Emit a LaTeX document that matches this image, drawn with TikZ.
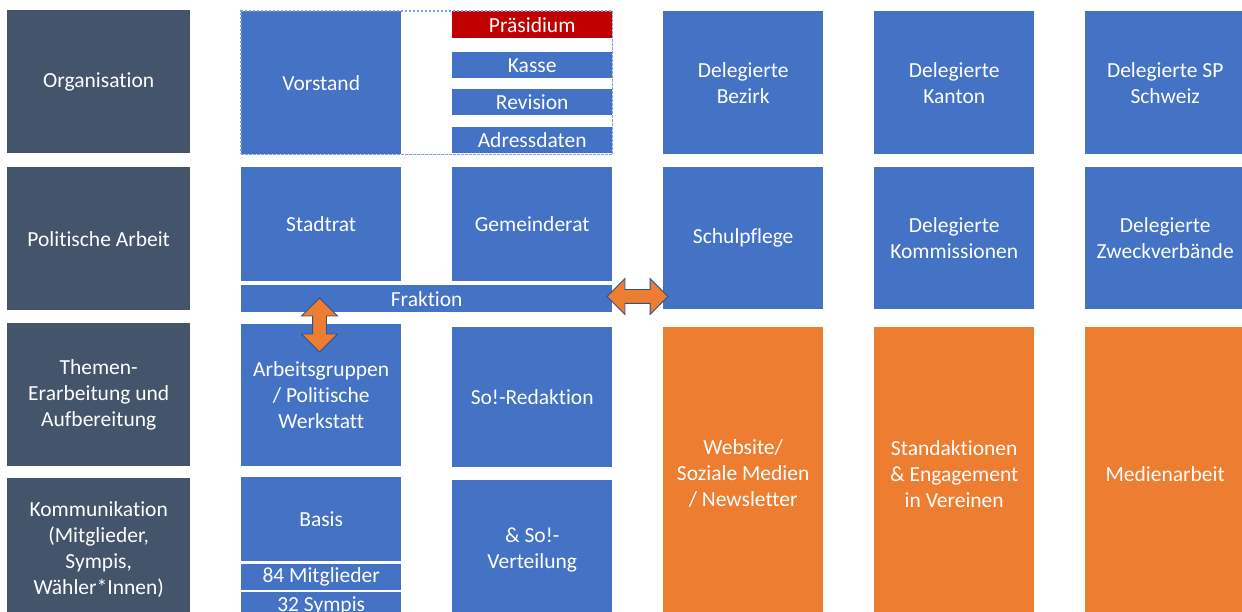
\documentclass[tikz,border=0pt]{standalone}
\usepackage{fontspec}
\setmainfont{Carlito}[Ligatures={NoCommon}]
\usetikzlibrary{shapes.arrows,fit,positioning}
\definecolor{spblue}{HTML}{4472C4}
\definecolor{spslate}{HTML}{44546A}
\definecolor{sporange}{HTML}{ED7D31}
\definecolor{spred}{HTML}{C00000}
\definecolor{spline}{HTML}{2F528F}
\definecolor{spdash}{HTML}{7FA0D8}
\tikzset{
    rowhead/.style={
    rectangle,fill=spslate,text=white,align=center,anchor=north west,inner sep=0pt,
    minimum width=183pt,minimum height=143pt,font=\fontsize{21.5}{26}\selectfont
    },
    orgbox/.style={
    rectangle,fill=spblue,text=white,align=center,anchor=north west,inner sep=0pt,
    minimum width=160pt,font=\fontsize{21.5}{26}\selectfont
    },
    actbox/.style={
    rectangle,fill=sporange,text=white,align=center,anchor=north west,inner sep=0pt,
    minimum width=160pt,minimum height=293pt,font=\fontsize{21.5}{26}\selectfont
    },
    bar/.style={
    orgbox,minimum height=26pt
    },
    dashbox/.style={
    rectangle,draw=spdash,line width=1.2pt,dash pattern=on 2.5pt off 1.5pt,inner sep=0pt
    },
    linkarrow/.style={
    double arrow,fill=sporange,draw=spline,line width=0.8pt,
    inner xsep=0pt,inner ysep=6.5pt,double arrow head extend=11pt
    },
}
\begin{document}
\begin{tikzpicture}[x=1pt,y=-1pt]
   \useasboundingbox (0,0) rectangle (1242,612);
   \clip (0,0) rectangle (1242,612);
   % Ebenen
   \node[rowhead] (org) at (7,10) {Organisation};
   \node[rowhead] (pol) at (7,167) {Politische Arbeit};
   \node[rowhead] (them) at (7,323) {Themen-\\Erarbeitung und\\Aufbereitung};
   \node[rowhead] (komm) at (7,478) {Kommunikation\\(Mitglieder,\\Sympis,\\Wähler*Innen)};
   % Organisation
   \node[orgbox,minimum height=143pt] (vorstand) at (241,11) {Vorstand};
   \node[bar,fill=spred,minimum height=27pt] (praes) at (452,11) {Präsidium};
   \node[bar] (kasse) at (452,52) {Kasse};
   \node[bar] (rev) at (452,89) {Revision};
   \node[bar] (adr) at (452,127) {Adressdaten};
   \node[dashbox,fit=(vorstand)(praes)(adr)] (vgruppe) {};
   \node[orgbox,minimum height=143pt] (delbez) at (663,11) {Delegierte\\Bezirk};
   \node[orgbox,minimum height=143pt] (delkant) at (874,11) {Delegierte\\Kanton};
   \node[orgbox,minimum height=143pt] (delsp) at (1085,11) {Delegierte SP\\Schweiz};
   % Politische Arbeit
   \node[orgbox,minimum height=114pt] (stadtrat) at (241,167) {Stadtrat};
   \node[orgbox,minimum height=114pt] (gemrat) at (452,167) {Gemeinderat};
   \node[bar,minimum width=371pt,minimum height=27pt] (fraktion) at (241,285) {Fraktion};
   \node[orgbox,minimum height=142pt] (schulpfl) at (663,167) {Schulpflege};
   \node[orgbox,minimum height=142pt] (delkomm) at (874,167) {Delegierte\\Kommissionen};
   \node[orgbox,minimum height=142pt] (delzweck) at (1085,167) {Delegierte\\Zweckverbände};
   % Themen
   \node[orgbox,minimum height=142pt] (arbgr) at (241,324) {Arbeitsgruppen\\/ Politische\\Werkstatt};
   \node[orgbox,minimum height=140pt] (redakt) at (452,327) {So!-Redaktion};
   % Kommunikation
   \node[orgbox,minimum height=84pt] (basis) at (241,477) {Basis};
   \node[bar] (mitgl) at (241,564) {84 Mitglieder};
   \node[bar,minimum height=28pt] (sympis) at (241,592) {32 Sympis};
   \node[orgbox,minimum height=140pt] (verteil) at (452,480) {\& So!-\\Verteilung};
   \node[actbox] (web) at (663,327) {Website/\\Soziale Medien\\/ Newsletter};
   \node[actbox] (stand) at (874,327) {Standaktionen\\\& Engagement\\in Vereinen};
   \node[actbox] (medien) at (1085,327) {Medienarbeit};
   % Verbindungen
   \node[linkarrow,minimum height=61pt] (fraklink) at (637.5,296.5) {};
   \node[linkarrow,minimum height=54pt,rotate=90] (arblink) at (319.5,325) {};
\end{tikzpicture}
\end{document}
